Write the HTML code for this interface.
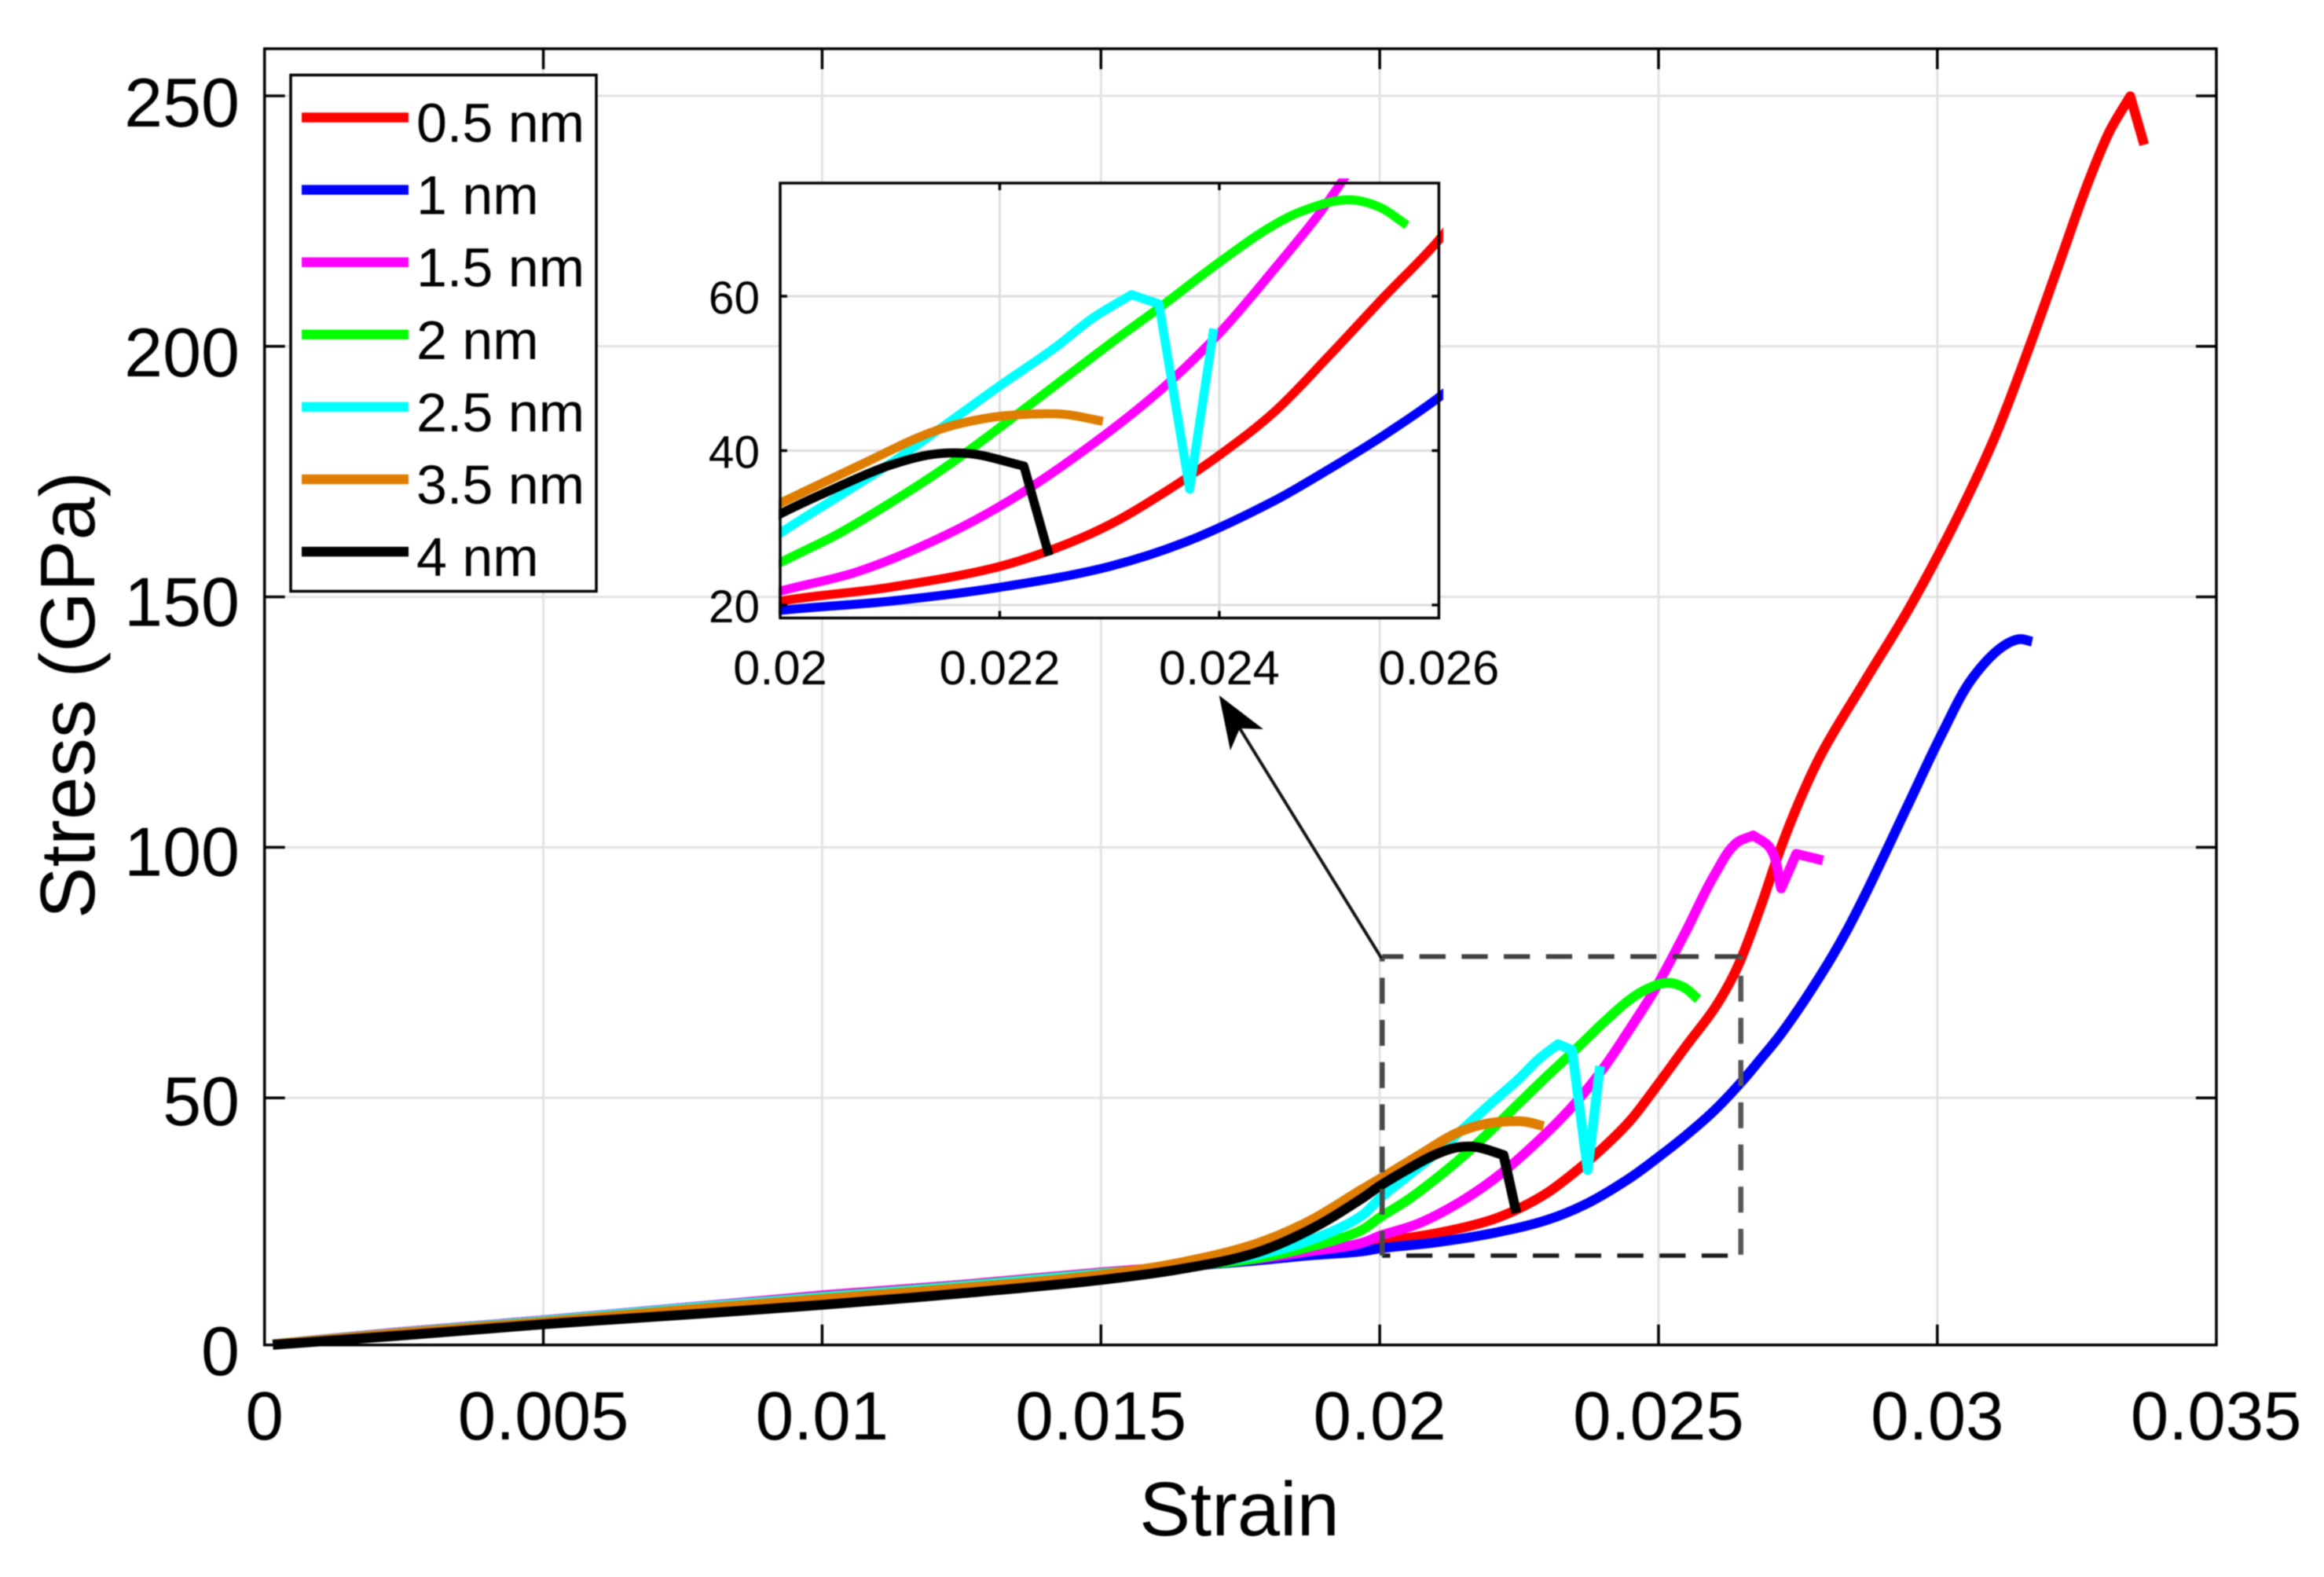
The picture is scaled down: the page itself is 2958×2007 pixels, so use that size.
<!DOCTYPE html>
<html lang="en">
<head>
<meta charset="utf-8">
<title>Stress-strain curves</title>
<style>
html,body{margin:0;padding:0;background:#fff;}
body{width:2958px;height:2007px;overflow:hidden;}
svg{display:block;filter:blur(0.9px);}
text{font-family:"Liberation Sans",Arial,sans-serif;fill:#000;}
</style>
</head>
<body>
<svg id="chart" xmlns="http://www.w3.org/2000/svg" width="2958" height="2007" viewBox="0 0 2958 2007">
  <rect x="0" y="0" width="2958" height="2007" fill="#fff"/>
  <defs>
    <clipPath id="main-clip"><rect x="336" y="61" width="2486" height="1665"/></clipPath>
    <clipPath id="inset-clip"><rect x="991" y="227" width="846" height="560"/></clipPath>
  </defs>
  <g id="main-grid"></g>
  <g id="main-axes"></g>
  <g id="main-lines" clip-path="url(#main-clip)"></g>
  <g id="zoom-box"></g>
  <g id="arrow"></g>
  <text x="1577.5" y="1954" font-size="97.5" text-anchor="middle">Strain</text>
  <text transform="translate(120 884.5) rotate(-90)" font-size="98.5" text-anchor="middle">Stress (GPa)</text>
  <rect x="993" y="233" width="838.4" height="553.5" fill="#fff"/>
  <g id="inset-grid"></g>
  <g id="inset-lines" clip-path="url(#inset-clip)"></g>
  <g id="inset-axes"></g>
  <g id="legend"></g>
</svg>
<script>
/* ---------- axis ticks ---------- */
const xTicks = [0, 0.005, 0.01, 0.015, 0.02, 0.025, 0.03, 0.035];
const xTickLabels = ["0", "0.005", "0.01", "0.015", "0.02", "0.025", "0.03", "0.035"];
const yTicks = [0, 50, 100, 150, 200, 250];
const yTickLabels = ["0", "50", "100", "150", "200", "250"];
const insetXTicks = [0.02, 0.022, 0.024, 0.026];
const insetXTickLabels = ["0.02", "0.022", "0.024", "0.026"];
const insetYTicks = [20, 40, 60];
const insetYTickLabels = ["20", "40", "60"];

/* ---------- series names ---------- */
const seriesNames = ["0.5 nm", "1 nm", "1.5 nm", "2 nm", "2.5 nm", "3.5 nm", "4 nm"];

/* ---------- series values ---------- */
const strain05 = [0.00015,0.0025,0.005,0.0075,0.01,0.0125,0.015,0.0165,0.0178,0.01874,0.01968,0.02,0.021,0.022,0.0225,0.023,0.0235,0.024,0.0245,0.025,0.0255,0.026,0.0263,0.02647,0.02684,0.02716,0.02755,0.02793,0.0287,0.02947,0.03024,0.03101,0.03163,0.03217,0.03271,0.0331,0.03346,0.03371];
const stress05 = [0.1,2.6,4.9,7.4,9.9,12,14.5,15.8,16.9,18,19.5,20.5,22.3,25,27.3,30.4,34.6,39.4,45,52.3,59.9,67.3,73,77,88,98.5,109.5,118.5,132.9,147,163,181.2,199.2,216,232.9,243.2,250,240.3];

const strain1 = [0.00015,0.0025,0.005,0.0075,0.01,0.0125,0.015,0.0165,0.0178,0.01874,0.01968,0.02,0.021,0.022,0.023,0.0237,0.0245,0.025,0.0255,0.026,0.0265,0.0268,0.0272,0.02793,0.02836,0.0287,0.02947,0.03009,0.03063,0.03117,0.03148,0.0317];
const stress1 = [0.1,2.6,4.9,7.4,9.8,12,14.4,15.7,16.9,17.9,18.7,19.3,20.5,22.3,25,28.2,33.5,37.6,42,46.9,52.8,56.8,62.3,74.4,82.6,90,108,122.5,133.5,139.8,141.3,140.8];

const strain15 = [0.00015,0.0025,0.005,0.0075,0.01,0.0125,0.015,0.0165,0.0178,0.01874,0.01968,0.02,0.0207,0.0215,0.0222,0.023,0.0235,0.024,0.0245,0.0249,0.0251,0.0255,0.026,0.0264,0.0267,0.027,0.0272,0.02747,0.02795];
const stress15 = [0.1,2.6,4.9,7.4,9.9,12,14.5,15.8,17.2,18.7,20.4,21.8,24.3,29,34.5,42.5,48.3,55.2,63.5,70.5,74.5,83,94,100.5,102,99.5,91.4,98.3,97];

const strain2 = [0.00015,0.0025,0.005,0.0075,0.01,0.0125,0.015,0.0165,0.0178,0.01874,0.01968,0.02,0.0205,0.021,0.0215,0.022,0.0225,0.023,0.0235,0.024,0.02447,0.02475,0.02517,0.02545,0.02571];
const stress2 = [0.1,2.5,4.8,7.3,9.6,11.8,14.3,15.7,17.3,19.6,23,25.5,29,33.2,37.8,43,48.4,53.8,59,64.4,69,71,72.5,71.6,69.2];

const strain25 = [0.00015,0.0025,0.005,0.0075,0.01,0.0125,0.015,0.0165,0.0178,0.01874,0.01968,0.02,0.0205,0.021,0.0215,0.022,0.0225,0.02285,0.0232,0.02345,0.02373,0.02395];
const stress25 = [0.1,2.5,4.8,7.3,9.5,11.7,14.2,15.7,18,20.9,25.9,29.3,33.8,38.3,43.3,48.4,53.3,57.2,60.2,59,35,55.8];

const strain35 = [0.00015,0.0025,0.005,0.0075,0.01,0.0125,0.015,0.0164,0.0178,0.01874,0.01968,0.02,0.02071,0.02142,0.02188,0.02224,0.02259,0.02294];
const stress35 = [0.1,2.4,4.6,7,9.2,11.4,14,16.4,20.3,24.8,31.1,33.2,38,42.6,44.2,44.7,44.7,43.8];

const strain4 = [0.00015,0.0025,0.005,0.0075,0.01,0.0125,0.015,0.0164,0.0178,0.01874,0.01968,0.02,0.02048,0.02098,0.02138,0.02173,0.02222,0.02245];
const stress4 = [0,1.9,4.1,6,8,10.3,13,15.1,18.5,23,29.3,31.8,35,38,39.5,39.6,38,26.4];

/* ---------- annotation anchors in data units ---------- */
const zoomStrainRange = [0.020044, 0.026476];
const zoomStressRange = [17.86, 77.75];

const seriesStrain = [strain05, strain1, strain15, strain2, strain25, strain35, strain4];
const seriesStress = [stress05, stress1, stress15, stress2, stress25, stress35, stress4];
const seriesColors = ["#ff0000", "#0000ff", "#ff00ff", "#00ff00", "#00ffff", "#de7d00", "#000000"];
const seriesKeys = ["0-5-nm", "1-nm", "1-5-nm", "2-nm", "2-5-nm", "3-5-nm", "4-nm"];

/* ---------- axis functions ---------- */
const mainX = s => 336.7 + s * 70971;
const mainY = v => 1711.5 - v * 6.356;
const mainTickY = v => Math.min(1711.5, 1716 - v * 6.376);
const insetX = s => 993 + (s - 0.02) * 139733;
const insetY = v => 377 + (60 - v) * 9.825;

const NS = "http://www.w3.org/2000/svg";
function make(parentId, tag, attrs, text) {
  const el = document.createElementNS(NS, tag);
  for (const k in attrs) el.setAttribute(k, attrs[k]);
  if (text !== undefined) el.textContent = text;
  document.getElementById(parentId).appendChild(el);
  return el;
}
/* smooth curve through the data points, keeping sharp corners sharp */
function curvePath(xs, ys, fx, fy) {
  const p = xs.map((s, i) => [fx(s), fy(ys[i])]);
  const n = p.length;
  const seg = [];
  for (let i = 0; i < n - 1; i++) {
    const dx = p[i + 1][0] - p[i][0], dy = p[i + 1][1] - p[i][1];
    const len = Math.hypot(dx, dy) || 1;
    seg.push([dx / len, dy / len, len]);
  }
  const inT = [], outT = [];
  for (let i = 0; i < n; i++) {
    if (i === 0) { outT[i] = seg[0]; inT[i] = seg[0]; continue; }
    if (i === n - 1) { inT[i] = seg[n - 2]; outT[i] = seg[n - 2]; continue; }
    const a = seg[i - 1], b = seg[i];
    if (a[0] * b[0] + a[1] * b[1] < 0.7) { inT[i] = a; outT[i] = b; continue; }
    const mx = a[0] + b[0], my = a[1] + b[1];
    const m = Math.hypot(mx, my) || 1;
    inT[i] = outT[i] = [mx / m, my / m];
  }
  let d = "M" + p[0][0].toFixed(1) + " " + p[0][1].toFixed(1);
  for (let i = 0; i < n - 1; i++) {
    const L3 = seg[i][2] / 3;
    d += "C" + (p[i][0] + outT[i][0] * L3).toFixed(1) + " " + (p[i][1] + outT[i][1] * L3).toFixed(1) +
      " " + (p[i + 1][0] - inT[i + 1][0] * L3).toFixed(1) + " " + (p[i + 1][1] - inT[i + 1][1] * L3).toFixed(1) +
      " " + p[i + 1][0].toFixed(1) + " " + p[i + 1][1].toFixed(1);
  }
  return d;
}

/* ---------- main grid, ticks, labels ---------- */
const L = 336.7, R = 2821, T = 62, B = 1711.7, TICK = 26;
xTicks.forEach((t, i) => {
  const x = mainX(t);
  if (i > 0 && i < xTicks.length - 1) {
    const g = make("main-grid", "line", {x1: x, x2: x, y1: T, y2: B, stroke: "#e2e2e2", "stroke-width": 3});
    
    
    const a = make("main-axes", "line", {x1: x, x2: x, y1: B, y2: B - TICK, stroke: "#000", "stroke-width": 3.5});
    
    
    const b = make("main-axes", "line", {x1: x, x2: x, y1: T, y2: T + TICK, stroke: "#000", "stroke-width": 3.5});
    
    
  }
  const lab = make("main-axes", "text", {x: x, y: 1832, "font-size": 87, "text-anchor": "middle"}, xTickLabels[i]);
  
  
});
yTicks.forEach((t, i) => {
  const y = mainTickY(t);
  if (i > 0) {
    const g = make("main-grid", "line", {x1: L, x2: R, y1: y, y2: y, stroke: "#e2e2e2", "stroke-width": 3});
    
    
    const a = make("main-axes", "line", {x1: L, x2: L + TICK, y1: y, y2: y, stroke: "#000", "stroke-width": 3.5});
    
    
    const b = make("main-axes", "line", {x1: R, x2: R - TICK, y1: y, y2: y, stroke: "#000", "stroke-width": 3.5});
    
    
  }
  const lab = make("main-axes", "text", {x: 305, y: mainY(t) + 38.5, "font-size": 88, "text-anchor": "end"}, yTickLabels[i]);
  
  
});
const frame = make("main-axes", "rect", {x: L, y: T, width: R - L, height: B - T, fill: "none", stroke: "#000", "stroke-width": 3.5});



/* ---------- main series ---------- */
seriesStrain.forEach((xs, i) => {
  const line = make("main-lines", "path", {
    d: curvePath(xs, seriesStress[i], mainX, mainY),
    fill: "none", stroke: seriesColors[i], "stroke-width": 12.5,
    "stroke-linejoin": "round", "stroke-linecap": "butt"
  });
  
  
});

/* ---------- zoom box ---------- */
const bx0 = mainX(zoomStrainRange[0]), bx1 = mainX(zoomStrainRange[1]);
const by0 = mainY(zoomStressRange[1]), by1 = mainY(zoomStressRange[0]);
const boxTop = make("zoom-box", "line", {x1: bx0, x2: bx1, y1: by0, y2: by0, stroke: "#404040", "stroke-width": 6, "stroke-dasharray": "33.3 20.4", "stroke-dashoffset": 6.3});


const boxRight = make("zoom-box", "line", {x1: bx1, x2: bx1, y1: by0, y2: by1, stroke: "#555", "stroke-width": 6.5, "stroke-dasharray": "33 20.7", "stroke-dashoffset": 29.3});


const boxBottom = make("zoom-box", "line", {x1: bx0, x2: bx1, y1: by1, y2: by1, stroke: "#1c1c1c", "stroke-width": 5.5, "stroke-dasharray": "33.3 20.4", "stroke-dashoffset": 23});


const boxLeft = make("zoom-box", "line", {x1: bx0, x2: bx0, y1: by0, y2: by1, stroke: "#484848", "stroke-width": 6.5, "stroke-dasharray": "33 20.7", "stroke-dashoffset": 26.7});



/* ---------- arrow ---------- */
const arrowLine = make("arrow", "line", {x1: bx0 - 1, y1: by0 + 2, x2: 1578, y2: 927, stroke: "#111", "stroke-width": 4});


const arrowHead = make("arrow", "polygon", {points: "1551.7,885 1608,928 1578,927 1566,955", fill: "#000"});



/* ---------- inset ---------- */
const IL = 993, IR = 1831.4, IT = 233, IB = 786.5, ITICK = 9;
insetXTicks.forEach((t, i) => {
  const x = insetX(t);
  if (i > 0 && i < insetXTicks.length - 1) {
    const g = make("inset-grid", "line", {x1: x, x2: x, y1: IT, y2: IB, stroke: "#dcdcdc", "stroke-width": 3});
    
    
    const a = make("inset-axes", "line", {x1: x, x2: x, y1: IB, y2: IB - ITICK, stroke: "#000", "stroke-width": 3.5});
    
    
    const b = make("inset-axes", "line", {x1: x, x2: x, y1: IT, y2: IT + ITICK, stroke: "#000", "stroke-width": 3.5});
    
    
  }
  const lab = make("inset-axes", "text", {x: x, y: 871, "font-size": 61.5, "text-anchor": "middle"}, insetXTickLabels[i]);
  
  
});
insetYTicks.forEach((t, i) => {
  const y = insetY(t);
  const g = make("inset-grid", "line", {x1: IL, x2: IR, y1: y, y2: y, stroke: "#dcdcdc", "stroke-width": 3});
  
  
  const a = make("inset-axes", "line", {x1: IL, x2: IL + ITICK, y1: y, y2: y, stroke: "#000", "stroke-width": 3.5});
  
  
  const b = make("inset-axes", "line", {x1: IR, x2: IR - ITICK, y1: y, y2: y, stroke: "#000", "stroke-width": 3.5});
  
  
  const lab = make("inset-axes", "text", {x: 967, y: y + 22, "font-size": 58.5, "text-anchor": "end"}, insetYTickLabels[i]);
  
  
});
seriesStrain.forEach((xs, i) => {
  const line = make("inset-lines", "path", {
    d: curvePath(xs, seriesStress[i], insetX, insetY),
    fill: "none", stroke: seriesColors[i], "stroke-width": 11.5,
    "stroke-linejoin": "round", "stroke-linecap": "butt"
  });
  
  
});
const insetFrame = make("inset-axes", "rect", {x: IL, y: IT, width: IR - IL, height: IB - IT, fill: "none", stroke: "#000", "stroke-width": 3.5});



/* ---------- legend ---------- */
const legendBox = make("legend", "rect", {x: 370, y: 95.5, width: 389, height: 657, fill: "#fff", stroke: "#000", "stroke-width": 3.5});


const legendRowStep = 92.1;
seriesNames.forEach((name, i) => {
  const y = 149.5 + i * legendRowStep;
  const sw = make("legend", "line", {x1: 384, x2: 520, y1: y, y2: y, stroke: seriesColors[i], "stroke-width": 12.5});
  
  
  const lab = make("legend", "text", {x: 530, y: y + 31, "font-size": 70}, name);
  
  
});
</script>
</body>
</html>
